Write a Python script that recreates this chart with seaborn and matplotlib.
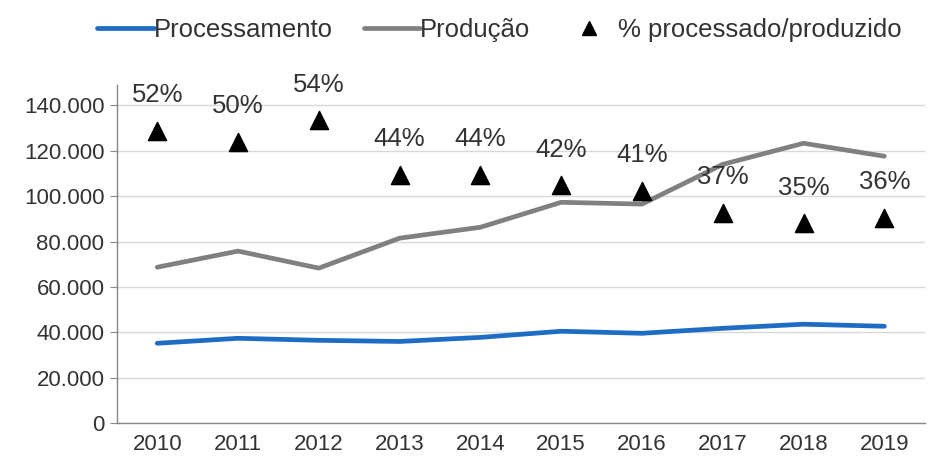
# Processamento vs produção, with % processado/produzido on a hidden twin axis
import matplotlib
matplotlib.use("Agg")
import matplotlib.pyplot as plt
import seaborn as sns
import pandas as pd
from matplotlib.ticker import FuncFormatter
from matplotlib.lines import Line2D

anos = [2010, 2011, 2012, 2013, 2014, 2015, 2016, 2017, 2018, 2019]
processamento = [35200, 37400, 36500, 36000, 37800, 40500, 39600, 41800, 43600, 42700]
producao = [68700, 75800, 68300, 81500, 86300, 97300, 96500, 114000, 123300, 117600]
percentual = [52, 50, 54, 44, 44, 42, 41, 37, 35, 36]

df = pd.DataFrame({"ano": anos, "Processamento": processamento,
                   "Produção": producao, "pct": percentual})

sns.set_style("white")
plt.rcParams["font.family"] = ["Liberation Sans", "DejaVu Sans"]

azul = "#1f6cc4"
cinza = "#808080"
texto = "#333333"

fig = plt.figure(figsize=(9.35, 4.59), dpi=100)
ax = fig.add_axes([0.125, 0.078, 0.864, 0.737])

sns.lineplot(data=df, x="ano", y="Processamento", color=azul, linewidth=3.4, ax=ax)
sns.lineplot(data=df, x="ano", y="Produção", color=cinza, linewidth=3.4, ax=ax)

ax.set_xlim(2009.5, 2019.5)
ax.set_ylim(0, 149000)
ax.set_yticks(range(0, 140001, 20000))
ax.yaxis.set_major_formatter(FuncFormatter(lambda v, p: f"{int(v):,}".replace(",", ".")))
ax.set_xticks(anos)
ax.set_xticks([a + 0.5 for a in anos[:-1]] + [2009.5, 2019.5], minor=True)
ax.tick_params(axis="x", which="major", length=0, labelsize=16, colors=texto, pad=8)
ax.tick_params(axis="x", which="minor", length=7, color="#888888", direction="out")
ax.tick_params(axis="y", length=5, color="#888888", labelsize=16, colors=texto, pad=4)
ax.grid(axis="y", color="#d9d9d9", linewidth=1)
ax.set_xlabel("")
ax.set_ylabel("")
for s in ["top", "right"]:
    ax.spines[s].set_visible(False)
for s in ["left", "bottom"]:
    ax.spines[s].set_color("#888888")
    ax.spines[s].set_linewidth(1)

# twin axis for the percentages (hidden)
ax2 = ax.twinx()
sns.scatterplot(data=df, x="ano", y="pct", marker="^", s=170, color="black",
                edgecolor="black", ax=ax2, legend=False)
ax2.set_ylim(-1.8, 60.5)
ax2.set_xlim(2009.5, 2019.5)
ax2.axis("off")
for a, p in zip(anos, percentual):
    ax2.annotate(f"{p}%", (a, p), xytext=(0, 17), textcoords="offset points",
                 ha="center", va="bottom", fontsize=18.5, color=texto,
                 annotation_clip=False)

handles = [
    Line2D([], [], color=azul, linewidth=3.4),
    Line2D([], [], color=cinza, linewidth=3.4),
    Line2D([], [], color="black", marker="^", linestyle="", markersize=10),
]
fig.legend(handles, ["Processamento", "Produção", "% processado/produzido"],
           loc="center", bbox_to_anchor=(0.534, 0.935), ncol=3, frameon=False,
           fontsize=18.5, handlelength=2.2, handletextpad=0.0, columnspacing=1.2,
           labelcolor=texto)

fig.savefig("out.png", dpi=100)
